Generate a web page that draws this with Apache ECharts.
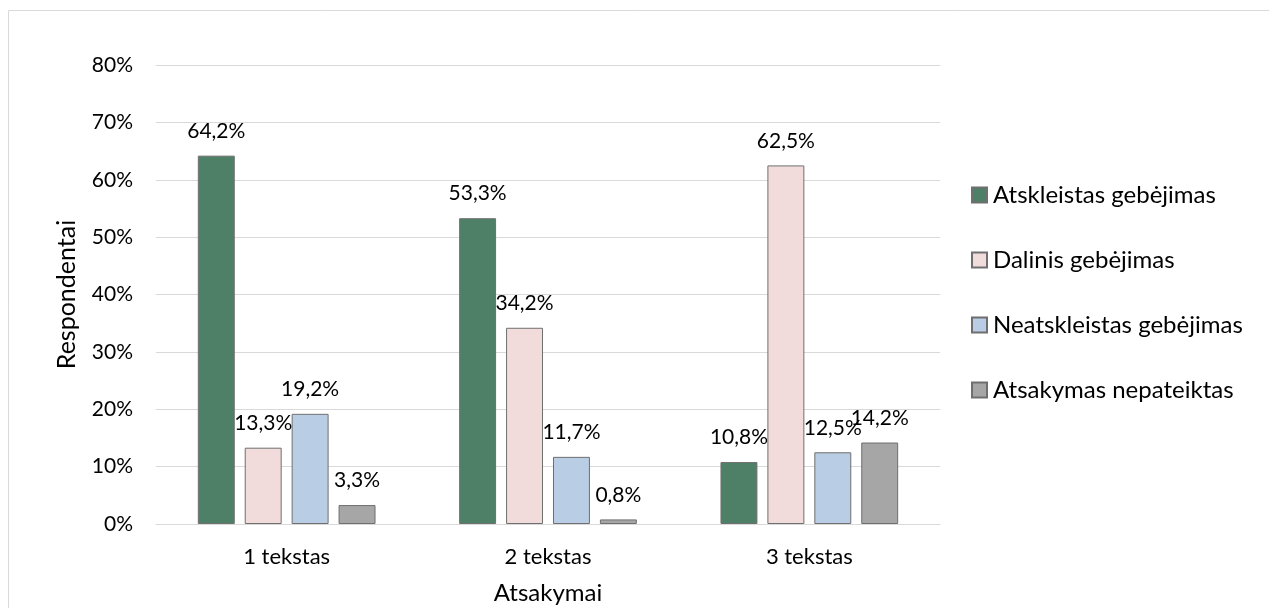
<!DOCTYPE html>
<html><head><meta charset="utf-8">
<script src="https://cdn.jsdelivr.net/npm/echarts@6/dist/echarts.min.js"></script>
<style>html,body{margin:0;padding:0;background:#fff}#c{width:1269px;height:608px}</style>
</head><body><div id="c"></div>
<script>
const categories = ['1 tekstas', '2 tekstas', '3 tekstas'];
const seriesNames = ['Atskleistas gebėjimas', 'Dalinis gebėjimas', 'Neatskleistas gebėjimas', 'Atsakymas nepateiktas'];
const atskleistas = [64.2, 53.3, 10.8];
const dalinis = [13.3, 34.2, 62.5];
const neatskleistas = [19.2, 11.7, 12.5];
const nepateiktas = [3.3, 0.8, 14.2];
const yTicks = [0, 10, 20, 30, 40, 50, 60, 70, 80];
const colors = ['#4e8068', '#f2dcdb', '#b9cde4', '#a6a6a6'];
const values = [atskleistas, dalinis, neatskleistas, nepateiktas];
const FONT = 'Lato, "Open Sans", sans-serif';

const chart = echarts.init(document.getElementById('c'), null, {renderer: 'canvas'});
chart.setOption({
  animation: false,
  textStyle: {fontFamily: FONT},
  graphic: [{type: 'rect', shape: {x: 8.5, y: 10.5, width: 1270, height: 620}, style: {fill: 'none', stroke: '#d9d9d9', lineWidth: 1}, silent: true}],
  grid: {left: 156, right: 329, top: 65, bottom: 84, containLabel: false, outerBoundsMode: 'none'},
  legend: {
    orient: 'vertical', left: 966, top: 178, itemGap: 41, itemWidth: 15, itemHeight: 15,
    icon: 'rect',
    textStyle: {fontSize: 24, color: '#000', fontFamily: FONT, padding: [0, 0, 0, 1]},
    data: seriesNames
  },
  xAxis: {
    type: 'category', data: categories,
    name: 'Atsakymai', nameLocation: 'middle', nameGap: 57,
    nameTextStyle: {fontSize: 24, color: '#000', fontFamily: FONT},
    axisLine: {lineStyle: {color: '#d9d9d9', width: 1}},
    axisTick: {show: false},
    axisLabel: {fontSize: 22, color: '#000', margin: 22, fontFamily: FONT}
  },
  yAxis: {
    type: 'value', min: 0, max: 80, interval: 10,
    name: 'Respondentai', nameLocation: 'middle', nameGap: 77, nameRotate: 90,
    nameTextStyle: {fontSize: 25, color: '#000', fontFamily: FONT},
    axisLine: {show: false}, axisTick: {show: false},
    splitLine: {lineStyle: {color: '#d9d9d9', width: 1}},
    axisLabel: {fontSize: 21, color: '#000', margin: 23, fontFamily: FONT,
      formatter: v => yTicks.includes(v) ? v + '%' : ''}
  },
  series: seriesNames.map((n, i) => ({
    name: n, type: 'bar', data: values[i],
    barGap: '27%', barCategoryGap: '32%',
    itemStyle: {color: colors[i], borderColor: '#6f6f6f', borderWidth: 1},
    label: {show: true, position: 'top', distance: 14, fontSize: 21, color: '#000', fontFamily: FONT,
      formatter: p => p.value.toFixed(1).replace('.', ',') + '%'}
  }))
});
</script></body></html>
